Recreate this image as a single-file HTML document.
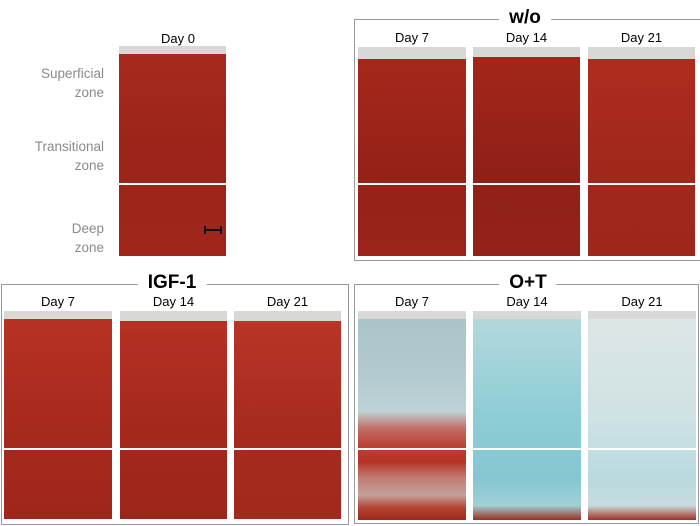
<!DOCTYPE html>
<html><head><meta charset="utf-8"><style>
body{margin:0;width:700px;height:526px;background:#fff;position:relative;overflow:hidden;font-family:"Liberation Sans",sans-serif}
.a{position:absolute}
.box{position:absolute;border:1.5px solid #999;box-sizing:border-box}
.title{position:absolute;background:#fff;font-weight:bold;font-size:19px;padding:0 10px;transform:translateX(-50%);line-height:20px}
.day{position:absolute;font-size:13px;transform:translateX(-50%);color:#000}
.panel{position:absolute;overflow:hidden}
.gray{position:absolute;left:0;right:0;top:0;background:#d8d8d6}
.div{position:absolute;left:0;right:0;height:2px;background:#fff}
.zl{position:absolute;color:#8a8a8a;font-size:13.5px;text-align:right;width:100px;line-height:19px}
</style></head><body>
<div class="day" style="left:178px;top:31px">Day 0</div>
<div class="zl" style="left:4px;top:64px">Superficial<br>zone</div>
<div class="zl" style="left:4px;top:137px">Transitional<br>zone</div>
<div class="zl" style="left:4px;top:219px">Deep<br>zone</div>

<div class="box" style="left:354px;top:19px;width:350px;height:242px"></div>
<div class="title" style="left:525px;top:8px">w/o</div>
<div class="box" style="left:1px;top:284px;width:348px;height:241px"></div>
<div class="title" style="left:172px;top:273px">IGF-1</div>
<div class="box" style="left:354px;top:284px;width:345px;height:240px"></div>
<div class="title" style="left:528px;top:273px">O+T</div>

<script>
const panels=[
 ["day0",119,46,107,210,8,183,"Day 0","linear-gradient(#a82a1e,#9a241a 50%,#a0261b)",false],
 ["wo-d7",358,47,108,209,12,183,"Day 7","linear-gradient(#a8281c,#952218 60%,#9a2419)",true],
 ["wo-d14",473,47,107,209,10,183,"Day 14","linear-gradient(#a5271b,#902017 60%,#952218)",true],
 ["wo-d21",588,47,107,209,12,183,"Day 21","linear-gradient(#b02d1f,#a0271b 60%,#9e271b)",true],
 ["igf-d7",4,311,108,208,8,448,"Day 7","linear-gradient(#b83224,#a6291d 60%,#a0251a)",true],
 ["igf-d14",120,311,107,208,10,448,"Day 14","linear-gradient(#b63224,#a3281c 60%,#9d251a)",true],
 ["igf-d21",234,311,107,208,10,448,"Day 21","linear-gradient(#ba3628,#a62a1e 60%,#a2291d)",true],
 ["ot-d7",358,311,108,209,8,448,"Day 7","linear-gradient(#a9c3c8,#b2c9cf 30%,#bed3d6 48%,#c27068 56%,#bb4436 64%,#b53325 72%,#c27d74 80%,#c4a19c 88%,#b54535 94%,#a02818 100%)",true],
 ["ot-d14",473,311,108,209,8,448,"Day 14","linear-gradient(#b7d9dd,#8ecdd6 50%,#85c6d0 80%,#a0d0d6 93%,#9a2e22 100%)",true],
 ["ot-d21",588,311,108,209,8,448,"Day 21","linear-gradient(#dde6e6,#d0e2e4 50%,#b8dade 80%,#c8dcde 93%,#a03022 100%)",true]
];
panels.forEach(p=>{
 const [n,x,y,w,h,g,dv,lab,bg,showLab]=p;
 if(showLab){const d=document.createElement('div');d.className='day';d.style.left=(x+w/2)+'px';d.style.top=(y-17)+'px';d.textContent=lab;
 
 
 document.body.appendChild(d);}
 const el=document.createElement('div');el.className='panel';
 el.style.cssText=`left:${x}px;top:${y}px;width:${w}px;height:${h}px;background:${bg}`;
 
 
 const gr=document.createElement('div');gr.className='gray';gr.style.height=g+'px';
 
 
 el.appendChild(gr);
 const dd=document.createElement('div');dd.className='div';dd.style.top=(dv-y)+'px';
 
 
 el.appendChild(dd);
 document.body.appendChild(el);
});
</script>
<div class="a" style="left:204px;top:229px;width:18px;height:2px;background:#111"></div>
<div class="a" style="left:204px;top:226px;width:2px;height:8px;background:#111"></div>
<div class="a" style="left:220px;top:226px;width:2px;height:8px;background:#111"></div>
</body></html>
